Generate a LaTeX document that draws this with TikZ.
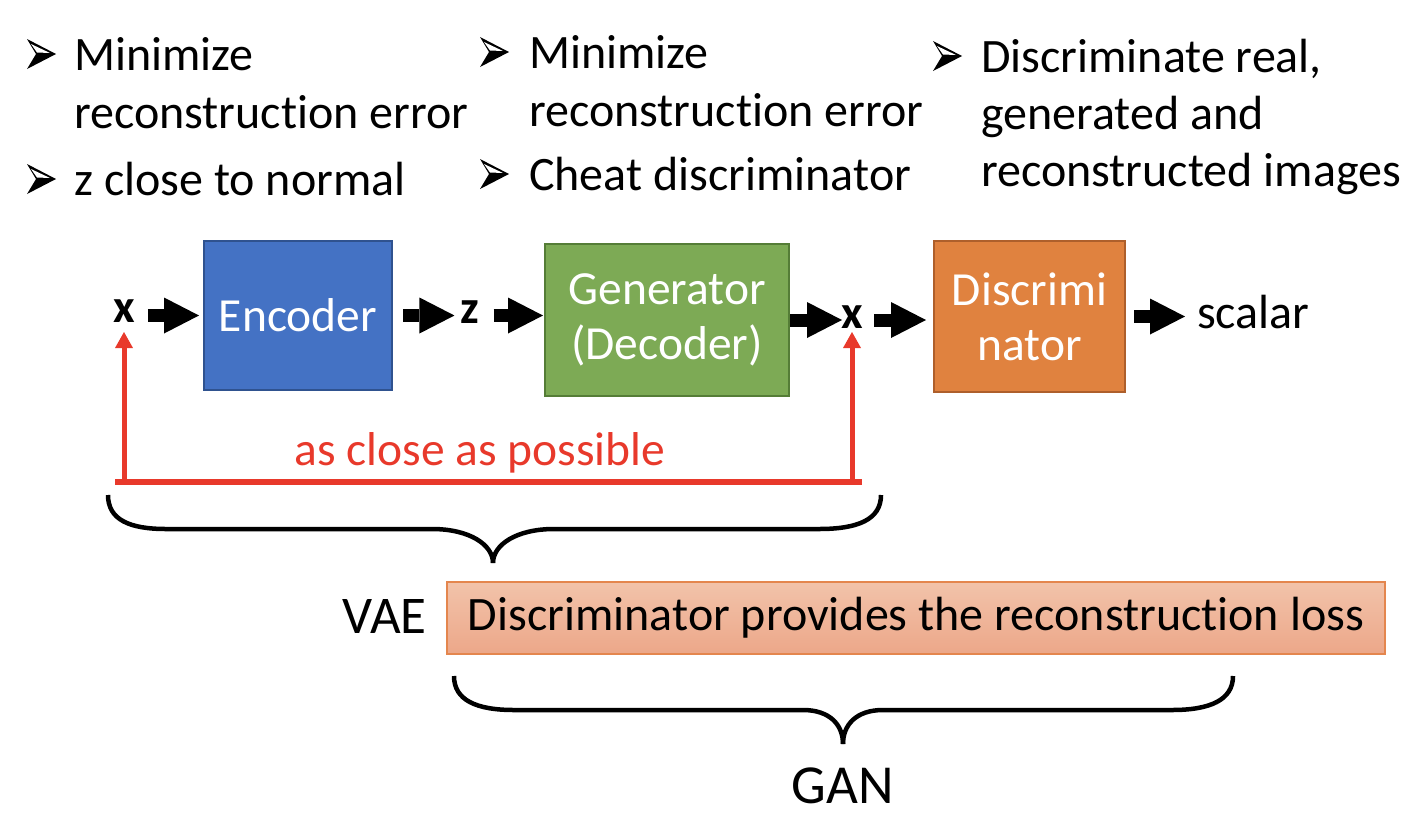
\documentclass[tikz,border=0pt]{standalone}
\usepackage{fontspec}
\setmainfont[Ligatures={NoCommon,NoRare,NoContextual},RawFeature={-liga;-dlig;-calt;-clig}]{Carlito}
\usetikzlibrary{arrows.meta,calc}
\definecolor{encfill}{HTML}{4472C4}
\definecolor{encdraw}{HTML}{2F528F}
\definecolor{genfill}{HTML}{7DAA55}
\definecolor{gendraw}{HTML}{557D37}
\definecolor{disfill}{HTML}{E0823F}
\definecolor{disdraw}{HTML}{AE5F2B}
\definecolor{myred}{HTML}{E8392B}
\definecolor{pinktop}{HTML}{F2C3AA}
\definecolor{pinkbot}{HTML}{ECA789}
\definecolor{pinkdraw}{HTML}{E4864E}
\newcommand\mybul[2]{%
  \fill[black] (#1,#2-15) -- (#1+29,#2) -- (#1,#2+15) -- (#1+9,#2) -- cycle;
  \fill[white] (#1+4,#2-10) -- (#1+23,#2-1) -- (#1+10,#2-1.5) -- cycle;
}
\begin{document}
\begin{tikzpicture}[x=1pt,y=-1pt,
  txt/.style={inner sep=0pt, anchor=base west, font=\fontsize{48}{56}\selectfont},
  lbl/.style={inner sep=0pt, anchor=base, font=\fontsize{47.5}{56}\selectfont},
  varlbl/.style={inner sep=0pt, anchor=base, font=\fontsize{47}{56}\selectfont\bfseries},
  blockbox/.style={draw, line width=2pt, text=white, align=center, inner sep=0pt,
    font=\fontsize{47.5}{55}\selectfont},
  blk/.style={line width=13pt, -{Triangle[length=35pt,width=36pt,line width=0pt]}},
  redline/.style={draw=myred, line width=5.5pt},
  redarr/.style={draw=myred, fill=myred, line width=5pt, -{Triangle[length=16pt,width=18pt,line width=0pt]}},
  bracestyle/.style={draw=black, line width=4.5pt}
  ]
\useasboundingbox (0,0) rectangle (1408,820);

% bullet texts
\mybul{27}{54}
\node[txt] (c1a) at (74,70) {Minimize};
\node[txt] (c1b) at (74,128) {reconstruction error};
\mybul{27}{179}
\node[txt] (c1c) at (74,195) {z close to normal};

\mybul{480}{52}
\node[txt] (c2a) at (529,68) {Minimize};
\node[txt] (c2b) at (529,126) {reconstruction error};
\mybul{480}{174}
\node[txt] (c2c) at (529,190) {Cheat discriminator};

\mybul{933}{56}
\node[txt] (c3a) at (981,72) {Discriminate real,};
\node[txt] (c3b) at (981,129) {generated and};
\node[txt] (c3c) at (981,186) {reconstructed images};

% pipeline
\node[varlbl] (xin) at (124,322) {x};
\node[blockbox, fill=encfill, draw=encdraw, minimum width=188pt, minimum height=149pt] (enc) at (298,315.5) {Encoder};
\node[varlbl] (zl) at (470,323) {z};
\node[blockbox, fill=genfill, draw=gendraw, minimum width=244pt, minimum height=152pt] (gen) at (667,320) {Generator\\(Decoder)};
\node[varlbl] (xout) at (852,328) {x};
\node[blockbox, fill=disfill, draw=disdraw, minimum width=191pt, minimum height=151pt] (dis) at (1029.5,316.5) {Discrimi\\nator};
\node[txt] (scal) at (1197,328) {scalar};

\draw[blk] ($(xin.east|-enc.west)+(13,0)$) -- ($(enc.west)+(-4,0)$);
\draw[blk] ($(enc.east)+(10,0)$) -- ($(zl.west|-enc.east)+(-6,0)$);
\draw[blk] ($(zl.east|-enc.east)+(14,0)$) -- ($(gen.west|-enc.east)+(-1,0)$);
\draw[blk] (gen.east) -- ($(xout.west|-gen.east)+(1,0)$);
\draw[blk] ($(xout.east|-gen.east)+(11,0)$) -- ($(dis.west|-gen.east)+(-7,0)$);
\draw[blk] ($(dis.east)+(8,0)$) -- ($(scal.west|-dis.east)+(-12,0)$);

% red feedback
\coordinate (rl) at (115,482);
\coordinate (rr) at (862,482);
\draw[redline] (rl) -- (rr);
\draw[redarr] (xin.base|-rl) -- ([yshift=-10pt]xin.base);
\draw[redarr] (xout.base|-rl) -- ([yshift=-4pt]xout.base);
\node[lbl, text=myred] (close) at (480,465) {as close as possible};

% brace VAE
\draw[bracestyle] (108,495) .. controls (108,520) and (130,529) .. (166,529) -- (432,529)
  .. controls (470,529) and (493,545) .. (493,563);
\draw[bracestyle] (493,563) .. controls (493,545) and (516,529) .. (554,529) -- (819,529)
  .. controls (857,529) and (881,520) .. (881,495);

\node[inner sep=0pt, anchor=base east, font=\fontsize{53}{60}\selectfont] (vae) at (427,633) {VAE};
\node[draw=pinkdraw, line width=1.2pt, top color=pinktop, bottom color=pinkbot,
  minimum width=938pt, minimum height=72pt, inner sep=0pt,
  font=\fontsize{48}{56}\selectfont] (pink) at (916,618) {Discriminator provides the reconstruction loss};

% brace GAN
\draw[bracestyle] (454,676) .. controls (454,700) and (476,710) .. (514,710) -- (803,710)
  .. controls (830,710) and (843,725) .. (843,744);
\draw[bracestyle] (843,744) .. controls (843,725) and (856,710) .. (883,710) -- (1172,710)
  .. controls (1210,710) and (1233,700) .. (1233,676);
\node[inner sep=0pt, anchor=base, font=\fontsize{55}{60}\selectfont] (gan) at (843,803) {GAN};
\end{tikzpicture}
\end{document}
